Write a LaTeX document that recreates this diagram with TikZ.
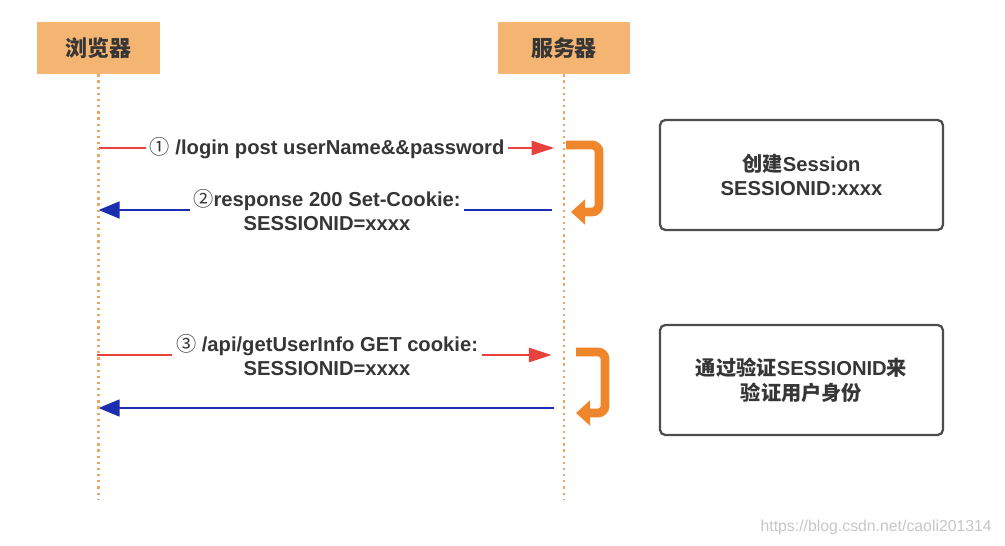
\documentclass[tikz,border=0pt]{standalone}
\usepackage{fontspec}
\setmainfont{Liberation Sans}
\newfontfamily\cjk{Noto Sans CJK SC}
\usepackage{tikz}
\usetikzlibrary{arrows.meta,positioning,backgrounds}
\definecolor{HeadFill}{HTML}{F4B573}
\definecolor{LifeLine}{HTML}{F2A45E}
\definecolor{ReqRed}{HTML}{E8423D}
\definecolor{RespBlue}{HTML}{1D2DB0}
\definecolor{LoopOrange}{HTML}{F0862C}
\definecolor{NoteGray}{HTML}{4D4D4D}
\definecolor{TextGray}{HTML}{363636}

\begin{document}
\begin{tikzpicture}[x=0.02cm, y=-0.02cm, font=\bfseries\fontsize{11.5}{14}\selectfont, text=TextGray,
  actor/.style={fill=HeadFill, minimum height=1.04cm, font=\cjk\bfseries\fontsize{12.5}{15}\selectfont},
  life/.style={LifeLine, line width=1.3pt, dash pattern=on 1.3pt off 2.2pt},
  req/.style={ReqRed, line width=1.5pt, -{Triangle[length=13pt,width=8pt]}},
  resp/.style={RespBlue, line width=1.5pt, -{Triangle[length=12pt,width=9.5pt]}},
  msg/.style={fill=white, inner sep=2pt, align=center},
  loopback/.style={LoopOrange, line width=5pt, rounded corners=4pt, -{Triangle[length=8pt,width=14pt]}},
  note/.style={draw=NoteGray, line width=1.3pt, rounded corners=3pt, minimum width=5.66cm, minimum height=2.2cm, align=center}]
\useasboundingbox (0,0) rectangle (1005,545);

\node[actor, minimum width=2.46cm] (browser) at (98.5,48) {浏览器};
\node[actor, minimum width=2.64cm] (server) at (564,48) {服务器};
\coordinate (bottom) at (0,500);
\foreach \p in {browser,server}{\draw[life] (\p.south) -- (\p |- bottom);}

\node[msg] (m1) at (327,148) {{\cjk\mdseries ①} /login post userName\&\&password};
\node[msg] (m2) at (327,210) {{\cjk\mdseries ②}response 200 Set-Cookie:\\SESSIONID=xxxx};
\node[msg] (m3) at (327,355) {{\cjk\mdseries ③} /api/getUserInfo GET cookie:\\SESSIONID=xxxx};
\coordinate (m4) at (327,408);

\begin{scope}[on background layer]
\fill[white] (0,0) rectangle (1005,545);
\draw[req, shorten >=5.5pt] (browser |- m1) -- (server |- m1);
\draw[resp, shorten <=7pt] (server |- m2) -- (browser |- m2);
\draw[req, shorten >=7pt, shorten <=-1pt] (browser |- m3) -- (server |- m3);
\draw[resp, shorten <=5.5pt] (server |- m4) -- (browser |- m4);
\end{scope}

\coordinate (c1a) at (566,145);
\coordinate (c1b) at (571,212);
\coordinate (c2a) at (576,352);
\coordinate (c2b) at (576,413);
\draw[loopback] (c1a) -- ++(33,0) |- (c1b);
\draw[loopback] (c2a) -- ++(29,0) |- (c2b);

\node[note] (n1) at (801.5,175) {{\cjk 创建}Session\\SESSIONID:xxxx};
\node[note] (n2) at (801.5,380) {{\cjk 通过验证}SESSIONID{\cjk 来}\\{\cjk 验证用户身份}};

\node[font=\mdseries\fontsize{9}{10}\selectfont, text=black!22, anchor=east] (mark) at (998,527) {https://blog.csdn.net/caoli201314};
\end{tikzpicture}
\end{document}
